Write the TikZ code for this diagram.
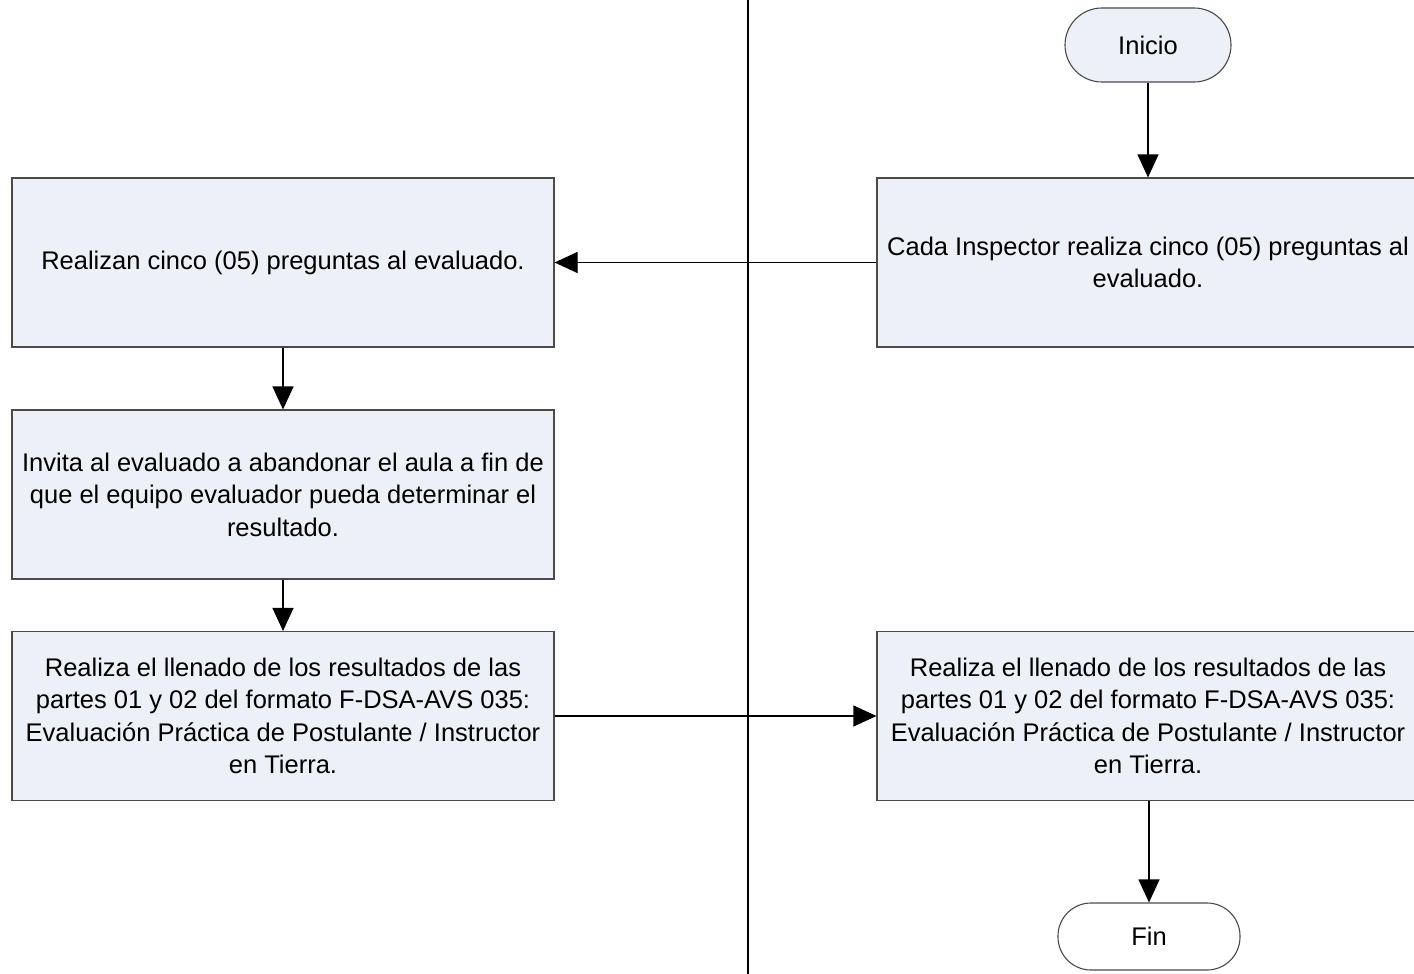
\documentclass[tikz,border=0pt]{standalone}
\usepackage{fontspec}
\setmainfont{Liberation Sans}
\usetikzlibrary{arrows.meta}
\definecolor{boxfill}{HTML}{EDF0F6}
\definecolor{boxline}{HTML}{4A4A4A}
\begin{document}
\begin{tikzpicture}[x=1pt,y=-1pt,
  every node/.style={font=\fontsize{25.5}{32.5}\selectfont, align=center, inner sep=0pt},
  procbox/.style={draw=boxline, line width=1.1pt, fill=boxfill, minimum width=542pt, minimum height=169pt},
  term/.style={draw=boxline, line width=1.1pt, rounded corners=34pt},
  conn/.style={draw=black, line width=1.1pt, -{Triangle[length=23pt,width=21pt]}}
]
\clip (0,0) rectangle (1414,974);
\useasboundingbox (0,0) rectangle (1414,974);
\coordinate (divtop) at (748,0);
\coordinate (divbot) at (748,974);
\draw[line width=1.1pt] (divtop) -- (divbot);

\node[term, fill=boxfill, minimum width=166pt, minimum height=74pt, rounded corners=37pt] (inicio) at (1148,45) {Inicio};
\node[procbox] (r1) at (1148,262.5) {Cada Inspector realiza cinco (05) preguntas al\\evaluado.};
\node[procbox] (l1) at (283,262.5) {Realizan cinco (05) preguntas al evaluado.};
\node[procbox] (l2) at (283,494.5) {Invita al evaluado a abandonar el aula a fin de\\que el equipo evaluador pueda determinar el\\resultado.};
\node[procbox] (l3) at (283,716) {Realiza el llenado de los resultados de las\\partes 01 y 02 del formato F-DSA-AVS 035:\\Evaluación Práctica de Postulante / Instructor\\en Tierra.};
\node[procbox] (r2) at (1148,716) {Realiza el llenado de los resultados de las\\partes 01 y 02 del formato F-DSA-AVS 035:\\Evaluación Práctica de Postulante / Instructor\\en Tierra.};
\node[term, fill=white, minimum width=182pt, minimum height=67pt, rounded corners=33pt] (fin) at (1149,936.5) {Fin};

\draw[conn] (inicio) -- (r1);
\draw[conn] (r1) -- (l1);
\draw[conn] (l1) -- (l2);
\draw[conn] (l2) -- (l3);
\draw[conn] (l3) -- (r2);
\draw[conn] (r2.south -| fin.north) -- (fin.north);
\end{tikzpicture}
\end{document}
